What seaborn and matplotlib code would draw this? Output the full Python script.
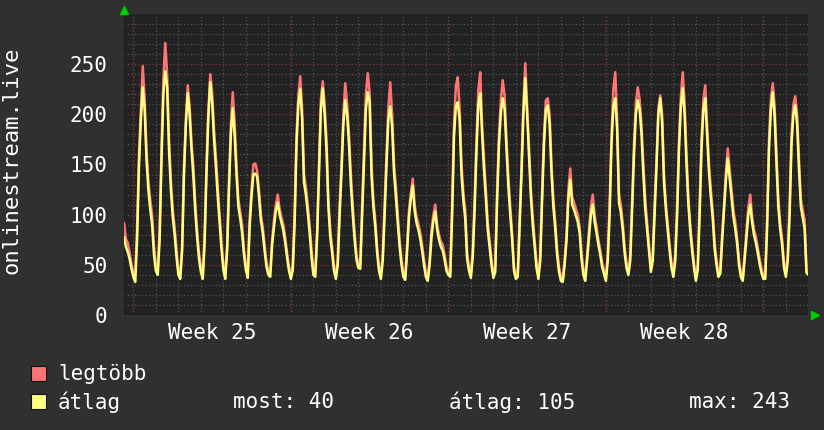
import matplotlib
matplotlib.use("Agg")
import matplotlib.pyplot as plt
from matplotlib.patches import Rectangle
import numpy as np
import pandas as pd
import seaborn as sns

# two-hour samples, hour 0 = left edge of the graph
hours = np.arange(0, 731, 2)

# "legtöbb" (max) per 2h sample: 6 lead-in values, then one row per day
max_vals = [
    92, 76, 72, 62, 50, 42,
    40, 88, 160, 205, 248, 215, 165, 133, 115, 100, 68, 50,
    45, 85, 165, 235, 271, 240, 175, 135, 105, 88, 65, 45,
    40, 70, 150, 195, 229, 208, 172, 148, 112, 84, 62, 48,
    40, 80, 150, 205, 240, 222, 185, 158, 128, 100, 72, 50,
    40, 70, 135, 190, 222, 192, 148, 115, 103, 90, 65, 50,
    40, 95, 125, 150, 151, 144, 125, 100, 88, 70, 52, 44,
    42, 75, 95, 110, 120, 106, 97, 90, 77, 62, 48, 40,
    50, 100, 180, 220, 238, 205, 140, 128, 110, 90, 65, 45,
    42, 85, 150, 215, 233, 210, 175, 115, 85, 68, 48, 40,
    55, 110, 150, 200, 231, 210, 180, 140, 110, 82, 60, 51,
    51, 110, 165, 220, 241, 222, 150, 115, 95, 68, 48, 40,
    60, 110, 160, 207, 232, 200, 151, 128, 100, 75, 55, 42,
    38, 70, 105, 122, 136, 110, 98, 91, 82, 70, 55, 42,
    38, 55, 85, 100, 110, 90, 80, 73, 70, 60, 48, 44,
    42, 110, 190, 228, 237, 205, 150, 122, 105, 62, 48, 42,
    65, 115, 175, 225, 242, 190, 155, 125, 92, 75, 55, 42,
    48, 125, 180, 215, 234, 218, 175, 138, 108, 82, 48, 40,
    42, 95, 148, 210, 251, 210, 170, 126, 98, 75, 52, 40,
    60, 125, 180, 214, 216, 200, 150, 115, 93, 65, 48, 38,
    36, 55, 80, 125, 146, 118, 112, 106, 100, 88, 62, 45,
    38, 60, 85, 108, 120, 100, 88, 75, 65, 52, 45, 38,
    60, 110, 180, 225, 242, 195, 120, 110, 92, 68, 52, 44,
    60, 115, 170, 212, 227, 215, 190, 150, 115, 92, 70, 48,
    60, 110, 155, 205, 219, 200, 140, 112, 90, 70, 52, 42,
    60, 110, 175, 218, 242, 210, 160, 118, 90, 70, 52, 38,
    50, 110, 175, 215, 229, 188, 150, 125, 104, 72, 55, 42,
    45, 80, 110, 142, 166, 145, 125, 105, 93, 77, 55, 42,
    38, 60, 85, 108, 120, 98, 85, 78, 67, 56, 46, 40,
    40, 95, 175, 215, 231, 208, 160, 115, 92, 76, 52, 42,
    60, 110, 180, 210, 218, 200, 155, 115, 105, 95, 45, 42,
]

# "átlag" (average), same layout
avg_vals = [
    78, 68, 63, 56, 46, 38,
    33, 76, 150, 195, 227, 205, 155, 125, 105, 90, 60, 44,
    40, 75, 155, 220, 243, 228, 165, 125, 98, 80, 58, 40,
    36, 64, 140, 190, 221, 200, 165, 138, 104, 78, 56, 43,
    36, 72, 142, 198, 232, 212, 176, 148, 118, 92, 66, 45,
    36, 64, 126, 180, 206, 180, 140, 108, 96, 82, 60, 45,
    37, 88, 118, 140, 141, 138, 118, 94, 82, 64, 48, 40,
    38, 70, 88, 104, 112, 100, 92, 84, 72, 57, 44, 36,
    45, 92, 170, 210, 225, 195, 132, 120, 102, 82, 58, 40,
    38, 78, 142, 205, 226, 200, 165, 108, 78, 62, 44, 36,
    50, 100, 142, 190, 214, 200, 170, 130, 100, 75, 55, 47,
    46, 100, 155, 205, 222, 212, 140, 108, 88, 62, 44, 36,
    54, 100, 150, 195, 208, 188, 142, 118, 92, 68, 50, 38,
    35, 64, 98, 116, 129, 104, 92, 85, 76, 64, 50, 38,
    34, 50, 78, 94, 103, 85, 75, 68, 64, 55, 44, 40,
    38, 100, 178, 208, 212, 195, 140, 114, 96, 56, 44, 37,
    58, 105, 165, 210, 221, 180, 145, 116, 85, 68, 50, 37,
    43, 115, 170, 202, 216, 205, 165, 128, 100, 75, 44, 36,
    38, 88, 140, 200, 236, 200, 160, 118, 90, 68, 47, 36,
    54, 115, 170, 205, 209, 190, 142, 108, 86, 60, 43, 34,
    33, 50, 74, 116, 135, 110, 105, 99, 93, 82, 56, 40,
    34, 55, 78, 100, 110, 93, 82, 70, 60, 48, 41, 34,
    54, 100, 170, 208, 216, 185, 112, 102, 85, 62, 47, 40,
    54, 105, 160, 200, 214, 205, 180, 140, 106, 85, 64, 43,
    54, 100, 148, 200, 216, 192, 132, 105, 84, 64, 47, 38,
    54, 100, 165, 208, 226, 200, 150, 110, 84, 64, 47, 34,
    45, 100, 165, 205, 216, 178, 142, 117, 96, 66, 50, 38,
    41, 74, 104, 134, 156, 137, 117, 98, 86, 71, 50, 38,
    34, 55, 78, 100, 110, 92, 80, 72, 62, 51, 42, 36,
    36, 88, 165, 205, 222, 198, 150, 107, 85, 70, 47, 38,
    54, 100, 170, 200, 209, 190, 145, 108, 97, 86, 42, 40,
]

series_names = ["legtöbb", "átlag"]
series_colors = ["#ff7575", "#ffff80"]
week_labels = ["Week 25", "Week 26", "Week 27", "Week 28"]
week_label_pos = [94, 262, 430, 598]
week_bounds = [10, 178, 346, 514, 682]
y_ticks = [0, 50, 100, 150, 200, 250]
stats_text = ["most: 40", "átlag: 105", "max: 243"]

BG = "#303030"
PLOT_BG = "#222222"

sns.set_theme(style="dark")
plt.rcParams["font.family"] = ["DejaVu Sans Mono", "DejaVu Sans"]

df = pd.DataFrame({
    "hour": np.concatenate([hours, hours]),
    "value": max_vals + avg_vals,
    "series": [series_names[0]] * len(hours) + [series_names[1]] * len(hours),
})

fig = plt.figure(figsize=(8.24, 4.30), dpi=100, facecolor=BG)
ax = fig.add_axes([124 / 824, 115 / 430, 684 / 824, 301 / 430])
ax.set_facecolor(PLOT_BG)

xmax = 729.6
ymax = 300

# grid: grey dotted minor, red dotted major
dot = (0, (1, 1.8))
for y in range(10, ymax, 10):
    major = y % 50 == 0
    ax.axhline(y, color="#803636" if major else "#525252", lw=0.9, ls=dot, zorder=0.5)
for x in range(10, int(xmax), 24):
    ax.axvline(x, color="#525252", lw=0.9, ls=dot, zorder=0.5)
for x in week_bounds:
    ax.axvline(x, color="#803636", lw=0.9, ls=dot, zorder=0.6)

sns.lineplot(
    data=df, x="hour", y="value", hue="series",
    hue_order=series_names, palette=series_colors,
    estimator=None, errorbar=None, linewidth=1.8, legend=False, ax=ax,
)

ax.set_xlim(0, xmax)
ax.set_ylim(0, ymax)
ax.set_yticks(y_ticks)
ax.set_xticks(week_label_pos)
ax.set_xticklabels(week_labels)
ax.set_xlabel("")
ax.set_ylabel("")
ax.tick_params(axis="y", length=0, pad=12, labelsize=15, labelcolor="white")
ax.tick_params(axis="x", length=0, pad=6, labelsize=15, labelcolor="white")
for s in ax.spines.values():
    s.set_visible(False)
ax.axhline(0, color="#1a1a1a", lw=1.2, zorder=0.7)
ax.axvline(0, color="#1a1a1a", lw=1.2, zorder=0.7)

# green axis arrows
fig.lines.append(plt.Line2D([124 / 824], [1 - 10 / 430], marker="^", color="#00cc00",
                            markersize=6, transform=fig.transFigure))
fig.lines.append(plt.Line2D([815 / 824], [1 - 315 / 430], marker=">", color="#00cc00",
                            markersize=6, transform=fig.transFigure))

fig.text(12 / 824, 1 - 160 / 430, "onlinestream.live", rotation=90,
         ha="center", va="center", color="white", fontsize=16)

# legend
for i, (name, col) in enumerate(zip(series_names, series_colors)):
    y = 374 + i * 28
    fig.patches.append(Rectangle((31 / 824, 1 - (y + 7) / 430), 15 / 824, 15 / 430,
                                 transform=fig.transFigure, facecolor=col,
                                 edgecolor="#111111", lw=0.8))
    fig.text(58 / 824, 1 - y / 430, name, ha="left", va="center",
             color="white", fontsize=15)
for x, t in zip([233, 449, 689], stats_text):
    fig.text(x / 824, 1 - 402 / 430, t, ha="left", va="center",
             color="white", fontsize=15)

fig.savefig("out.png", dpi=100, facecolor=BG)
plt.close(fig)
